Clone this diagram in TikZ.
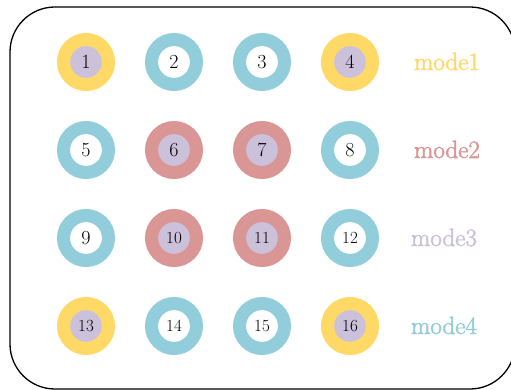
\documentclass[tikz,border=0pt]{standalone}
\usepackage{fontspec}
\newfontfamily\modefont[FakeBold=2]{Latin Modern Roman}
\definecolor{cyel}{HTML}{FFD966}
\definecolor{cblu}{HTML}{92CDDC}
\definecolor{cred}{HTML}{D99694}
\definecolor{clav}{HTML}{CCC1DA}
\tikzset{
  ring/.style={circle, line width=13pt, minimum size=45pt, inner sep=0pt},
  ringY/.style={ring, draw=cyel, fill=clav},
  ringB/.style={ring, draw=cblu, fill=white},
  ringR/.style={ring, draw=cred, fill=clav},
  one/.style={font=\fontsize{20}{20}\selectfont},
  two/.style={font=\fontsize{17}{17}\selectfont},
  modelabel/.style={anchor=base, font=\modefont\fontsize{25}{25}\selectfont},
  frame/.style={draw=black, line width=1.3pt, rounded corners=45pt}
}
\begin{document}
\begin{tikzpicture}[x=1pt,y=-1pt]
\useasboundingbox (0,0) rectangle (511,390);
\begin{scope}
\clip (0,0) rectangle (511,390);
\node[frame, minimum width=505pt, minimum height=382pt, inner sep=0pt] (box) at (262.5,198) {};
\end{scope}
% row 1
\node[ringY, one] (n1) at (86,62) {1};
\node[ringB, one] (n2) at (174,62) {2};
\node[ringB, one] (n3) at (262,62) {3};
\node[ringY, one] (n4) at (350,62) {4};
% row 2
\node[ringB, one] (n5) at (86,150) {5};
\node[ringR, one] (n6) at (174,150) {6};
\node[ringR, one] (n7) at (262,150) {7};
\node[ringB, one] (n8) at (350,150) {8};
% row 3
\node[ringB, one] (n9) at (86,238) {9};
\node[ringR, two] (n10) at (174,238) {10};
\node[ringR, two] (n11) at (262,238) {11};
\node[ringB, two] (n12) at (350,238) {12};
% row 4
\node[ringY, two] (n13) at (86,326) {13};
\node[ringB, two] (n14) at (174,326) {14};
\node[ringB, two] (n15) at (262,326) {15};
\node[ringY, two] (n16) at (350,326) {16};
% labels
\node[modelabel, text=cyel] (m1) at (447,70) {mode1};
\node[modelabel, text=cred] (m2) at (447,158) {mode2};
\node[modelabel, text=clav] (m3) at (444,246) {mode3};
\node[modelabel, text=cblu] (m4) at (444,334) {mode4};
\end{tikzpicture}
\end{document}
